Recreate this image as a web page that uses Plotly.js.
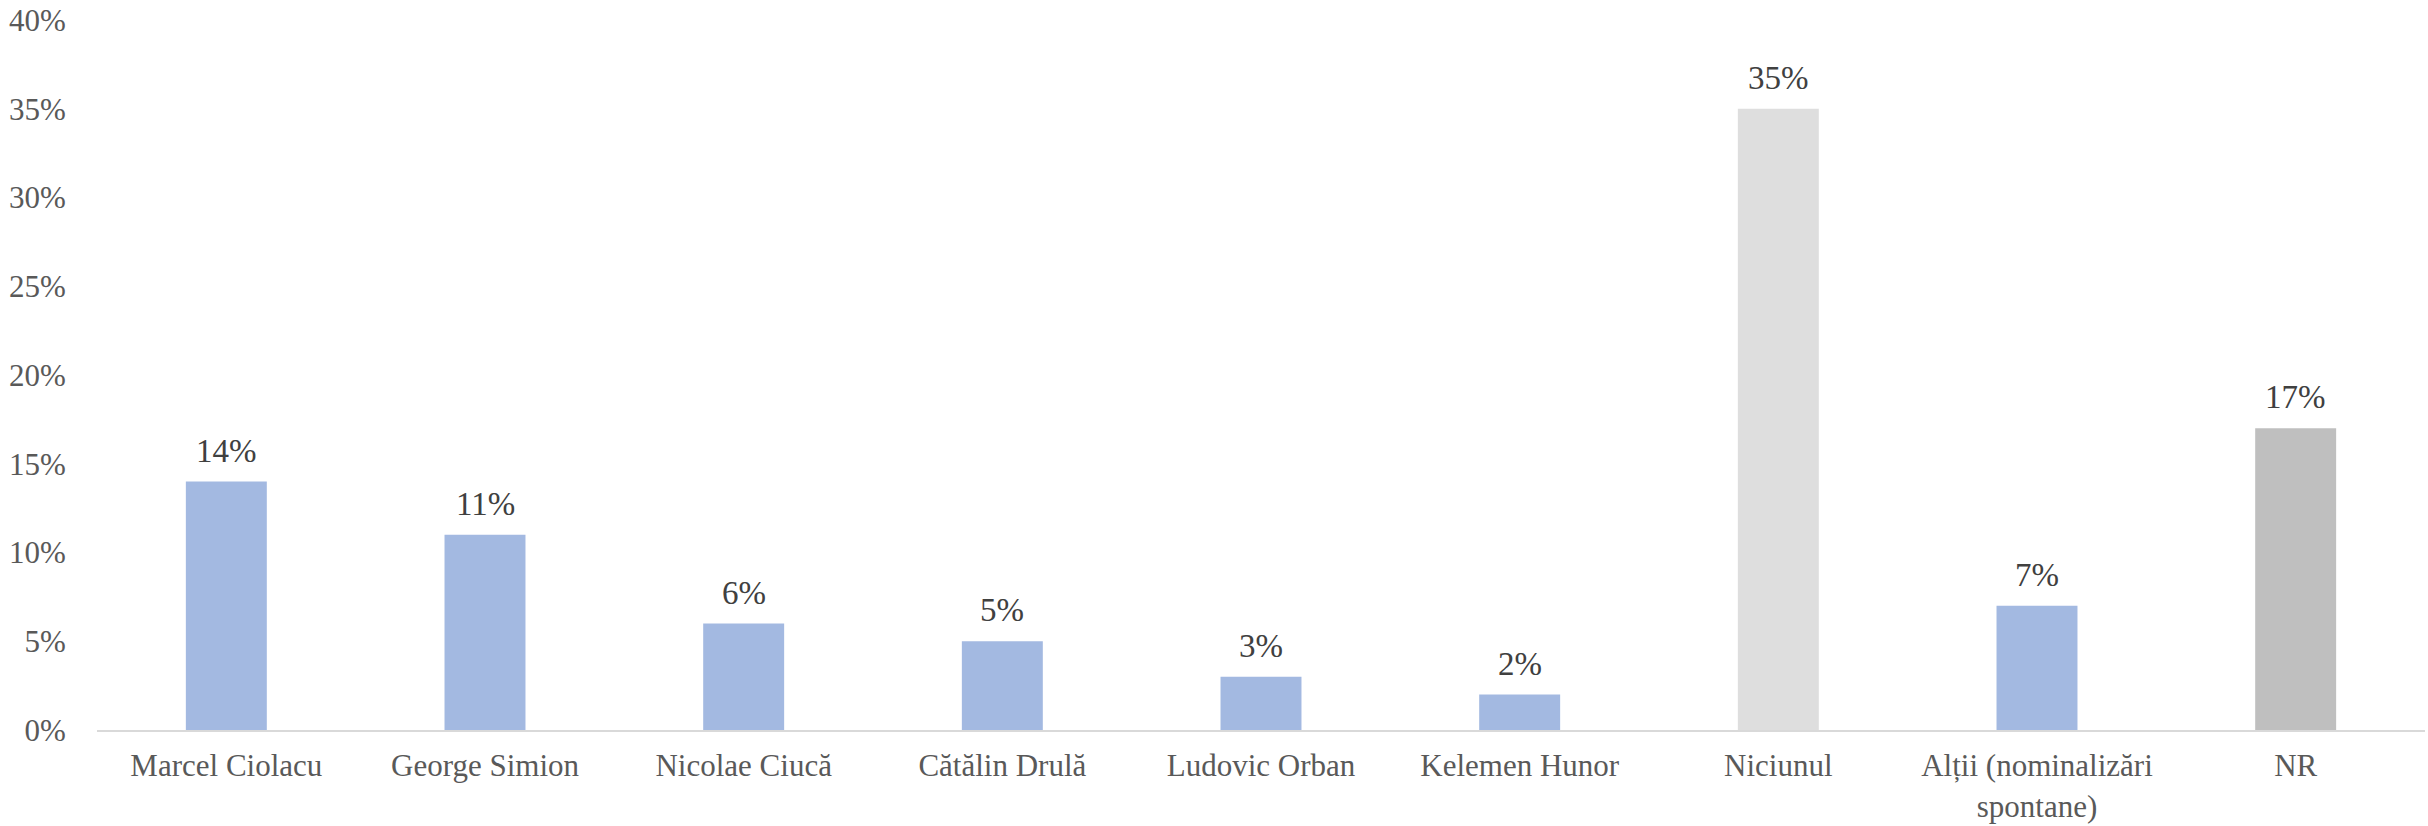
<!DOCTYPE html>
<html>
<head>
<meta charset="utf-8">
<script src="https://cdn.plot.ly/plotly-3.0.1.min.js"></script>
<style>html,body{margin:0;padding:0;background:#fff;}#chart{width:2428px;height:826px;}</style>
</head>
<body>
<div id="chart"></div>
<script>
const categories = ["Marcel Ciolacu", "George Simion", "Nicolae Ciucă", "Cătălin Drulă", "Ludovic Orban", "Kelemen Hunor", "Niciunul", "Alții (nominalizări<br>spontane)", "NR"];
const values = [14, 11, 6, 5, 3, 2, 35, 7, 17];
const barColors = ["#A3B9E1", "#A3B9E1", "#A3B9E1", "#A3B9E1", "#A3B9E1", "#A3B9E1", "#DEDEDE", "#A3B9E1", "#BFBFBF"];
const yTickVals = [0, 5, 10, 15, 20, 25, 30, 35, 40];
const yTickText = ["0%", "5%", "10%", "15%", "20%", "25%", "30%", "35%", "40%"];

const fontFamily = "'Liberation Serif', serif";

const trace = {
  type: "bar",
  x: categories,
  y: values,
  marker: {color: barColors, line: {width: 0}},
  hoverinfo: "none"
};

const annotations = categories.map((c, i) => ({
  x: c, y: values[i], xref: "x", yref: "y",
  text: values[i] + "%", showarrow: false,
  yanchor: "bottom", yshift: 11,
  font: {family: fontFamily, size: 33, color: "#404040"}
}));

const layout = {
  width: 2428, height: 826,
  margin: {l: 97, r: 3, t: 20, b: 96},
  paper_bgcolor: "#fff", plot_bgcolor: "#fff",
  bargap: 0.687,
  showlegend: false,
  font: {family: fontFamily, size: 31, color: "#595959"},
  xaxis: {
    showline: true, linecolor: "#D9D9D9", linewidth: 2,
    showgrid: false, zeroline: false,
    ticks: "outside", ticklen: 7, tickcolor: "rgba(0,0,0,0)",
    tickfont: {family: fontFamily, size: 31, color: "#595959"}
  },
  yaxis: {
    range: [0, 40], tickvals: yTickVals, ticktext: yTickText,
    showgrid: false, zeroline: false, showline: false,
    ticks: "outside", ticklen: 24, tickcolor: "rgba(0,0,0,0)",
    tickfont: {family: fontFamily, size: 31, color: "#595959"}
  },
  annotations: annotations
};

Plotly.newPlot("chart", [trace], layout, {displayModeBar: false, staticPlot: true});
</script>
</body>
</html>
